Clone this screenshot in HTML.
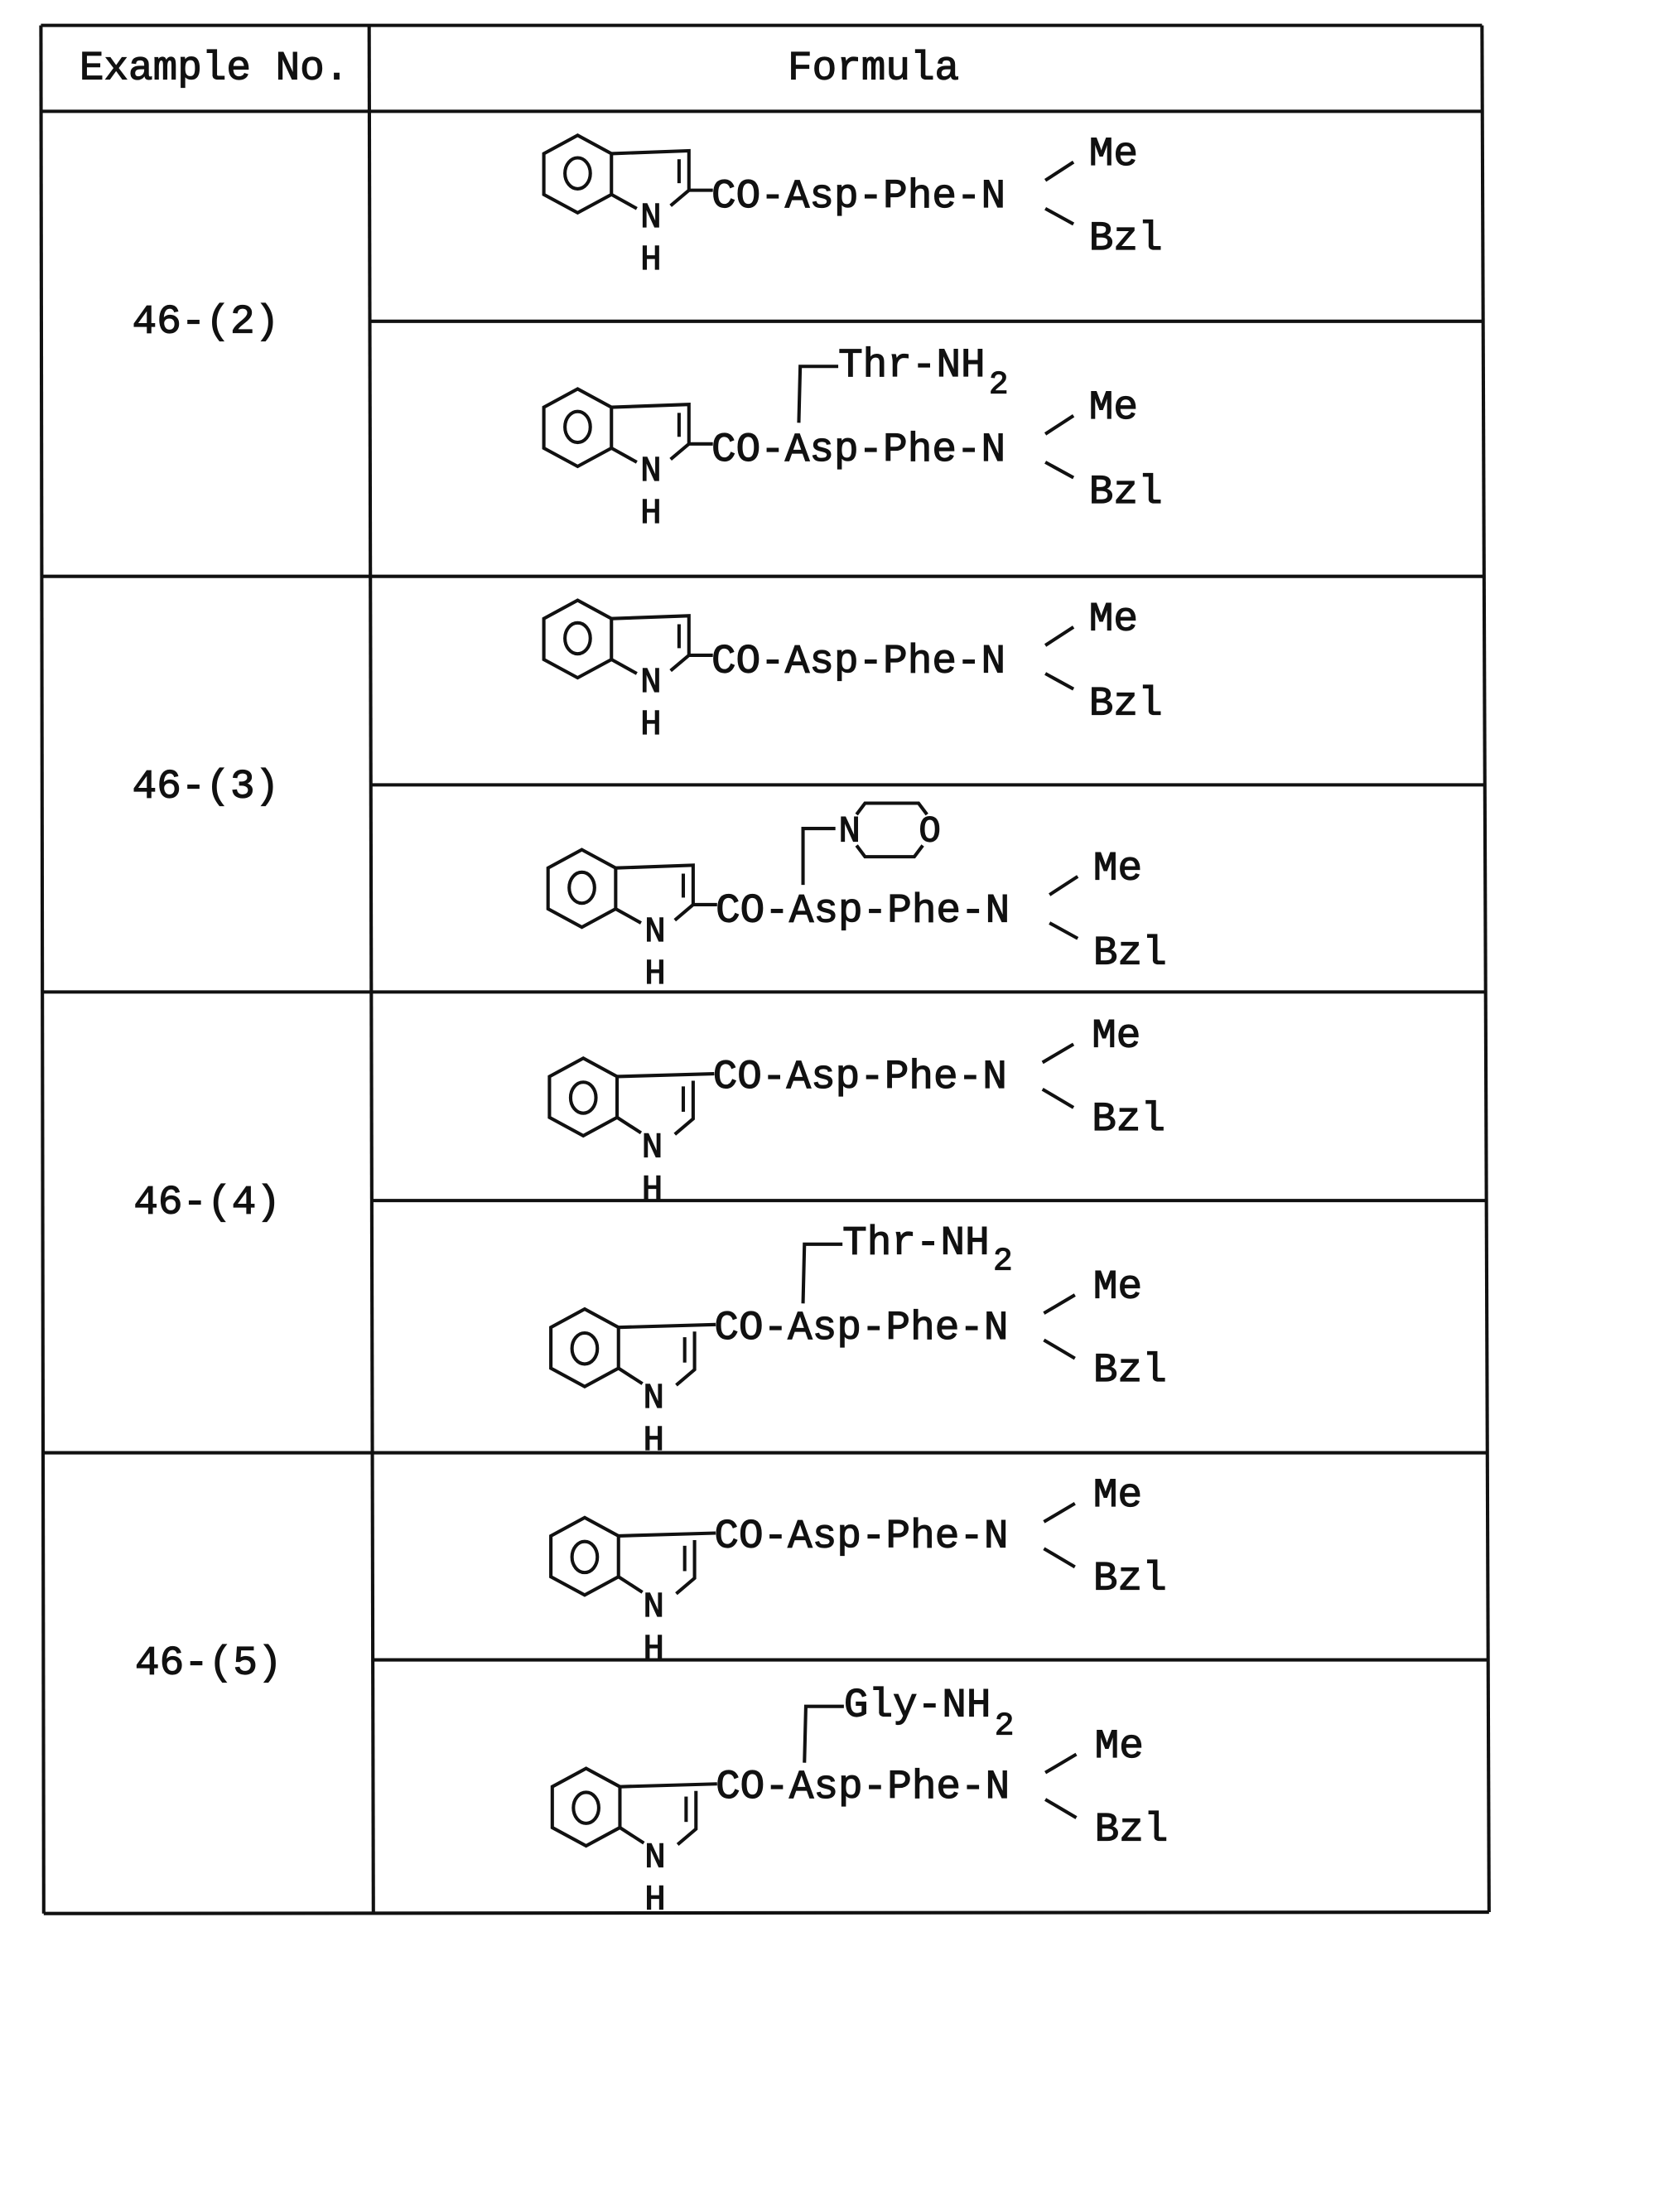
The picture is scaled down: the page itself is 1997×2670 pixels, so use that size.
<!DOCTYPE html>
<html><head><meta charset="utf-8"><style>
html,body{margin:0;padding:0;background:#fff;}
svg{display:block;}
text{font-family:"Liberation Mono","DejaVu Sans Mono",monospace;fill:#111;stroke:#111;stroke-width:0.7;}
</style></head><body>
<svg width="1997" height="2670" viewBox="0 0 1160 1551" xmlns="http://www.w3.org/2000/svg">
<g transform="translate(2,1) scale(0.988)">
<g stroke="#111" stroke-width="2.4" fill="none">
<line x1="27" y1="17" x2="1050" y2="17"/>
<line x1="27" y1="78" x2="1050" y2="78"/>
<line x1="27" y1="408" x2="1051" y2="408"/>
<line x1="27" y1="703" x2="1052" y2="703"/>
<line x1="28" y1="1030" x2="1054" y2="1030"/>
<line x1="29" y1="1357" x2="1055" y2="1356"/>
<line x1="260" y1="227" x2="1050" y2="227"/>
<line x1="261" y1="556" x2="1051" y2="556"/>
<line x1="262" y1="851" x2="1053" y2="851"/>
<line x1="263" y1="1177" x2="1054" y2="1177"/>
<line x1="27" y1="17" x2="29" y2="1357"/>
<line x1="260" y1="17" x2="263" y2="1357"/>
<line x1="1050" y1="17" x2="1055" y2="1356"/>
</g>
<g font-size="29" text-anchor="middle">
<text x="150" y="55">Example No.</text>
<text x="618" y="55">Formula</text>
<text x="144" y="235">46-(2)</text>
<text x="144" y="565">46-(3)</text>
<text x="145" y="860">46-(4)</text>
<text x="146" y="1187">46-(5)</text>
</g>

<g>
<g stroke="#111" stroke-width="2.4" fill="none">
<polygon points="408,95 432,108 432,137 408,150 384,137 384,108"/>
<ellipse cx="408" cy="122" rx="9" ry="11"/>
<polyline points="432,108 487,106 487,134 474,145"/>
<line x1="480" y1="112" x2="480" y2="129"/>
<line x1="432" y1="137" x2="450" y2="147"/>
<line x1="487" y1="134" x2="504" y2="134"/>
<line x1="740" y1="127" x2="760" y2="114"/>
<line x1="740" y1="147" x2="760" y2="158"/>
</g>
<g font-size="29">
<text x="460" y="160" text-anchor="middle" font-size="25">N</text>
<text x="460" y="190" text-anchor="middle" font-size="25">H</text>
<text x="503" y="146">CO-Asp-Phe-N</text>
<text x="771" y="116">Me</text>
<text x="771" y="176">Bzl</text>
</g>
</g>
<g transform="translate(0,180)">
<g stroke="#111" stroke-width="2.4" fill="none">
<polygon points="408,95 432,108 432,137 408,150 384,137 384,108"/>
<ellipse cx="408" cy="122" rx="9" ry="11"/>
<polyline points="432,108 487,106 487,134 474,145"/>
<line x1="480" y1="112" x2="480" y2="129"/>
<line x1="432" y1="137" x2="450" y2="147"/>
<line x1="487" y1="134" x2="504" y2="134"/>
<line x1="740" y1="127" x2="760" y2="114"/>
<line x1="740" y1="147" x2="760" y2="158"/>
<polyline points="593,79 566,79 565,119"/>
</g>
<g font-size="29">
<text x="460" y="160" text-anchor="middle" font-size="25">N</text>
<text x="460" y="190" text-anchor="middle" font-size="25">H</text>
<text x="503" y="146">CO-Asp-Phe-N</text>
<text x="771" y="116">Me</text>
<text x="771" y="176">Bzl</text>
<text x="593" y="86">Thr-NH</text>
<text x="700" y="98" font-size="23">2</text>
</g>
</g>
<g transform="translate(0,330)">
<g stroke="#111" stroke-width="2.4" fill="none">
<polygon points="408,95 432,108 432,137 408,150 384,137 384,108"/>
<ellipse cx="408" cy="122" rx="9" ry="11"/>
<polyline points="432,108 487,106 487,134 474,145"/>
<line x1="480" y1="112" x2="480" y2="129"/>
<line x1="432" y1="137" x2="450" y2="147"/>
<line x1="487" y1="134" x2="504" y2="134"/>
<line x1="740" y1="127" x2="760" y2="114"/>
<line x1="740" y1="147" x2="760" y2="158"/>
</g>
<g font-size="29">
<text x="460" y="160" text-anchor="middle" font-size="25">N</text>
<text x="460" y="190" text-anchor="middle" font-size="25">H</text>
<text x="503" y="146">CO-Asp-Phe-N</text>
<text x="771" y="116">Me</text>
<text x="771" y="176">Bzl</text>
</g>
</g>
<g transform="translate(3,507)">
<g stroke="#111" stroke-width="2.4" fill="none">
<polygon points="408,95 432,108 432,137 408,150 384,137 384,108"/>
<ellipse cx="408" cy="122" rx="9" ry="11"/>
<polyline points="432,108 487,106 487,134 474,145"/>
<line x1="480" y1="112" x2="480" y2="129"/>
<line x1="432" y1="137" x2="450" y2="147"/>
<line x1="487" y1="134" x2="504" y2="134"/>
<line x1="740" y1="127" x2="760" y2="114"/>
<line x1="740" y1="147" x2="760" y2="158"/>
<polyline points="588,80 565,80 565,120"/>
<polyline points="603,70 609,62 647,62 653,70"/>
<polyline points="603,92 609,100 644,100 650,92"/>
</g>
<g font-size="29">
<text x="460" y="160" text-anchor="middle" font-size="25">N</text>
<text x="460" y="190" text-anchor="middle" font-size="25">H</text>
<text x="503" y="146">CO-Asp-Phe-N</text>
<text x="771" y="116">Me</text>
<text x="771" y="176">Bzl</text>
<text x="598" y="89" text-anchor="middle" font-size="26">N</text>
<text x="655" y="89" text-anchor="middle" font-size="26">O</text>
</g>
</g>

<g>
<g stroke="#111" stroke-width="2.4" fill="none">
<polygon points="412,750 436,763 436,792 412,805 388,792 388,763"/>
<ellipse cx="412" cy="778" rx="9" ry="11"/>
<line x1="436" y1="763" x2="505" y2="761"/>
<polyline points="490,766 490,793 477,804"/>
<line x1="483" y1="770" x2="483" y2="788"/>
<line x1="436" y1="792" x2="453" y2="803"/>
<line x1="738" y1="753" x2="760" y2="740"/>
<line x1="738" y1="772" x2="760" y2="785"/>
</g>
<g font-size="29">
<text x="461" y="820" text-anchor="middle" font-size="25">N</text>
<text x="461" y="850" text-anchor="middle" font-size="25">H</text>
<text x="504" y="771">CO-Asp-Phe-N</text>
<text x="773" y="742">Me</text>
<text x="773" y="801">Bzl</text>
</g>
</g>
<g transform="translate(1,178)">
<g stroke="#111" stroke-width="2.4" fill="none">
<polygon points="412,750 436,763 436,792 412,805 388,792 388,763"/>
<ellipse cx="412" cy="778" rx="9" ry="11"/>
<line x1="436" y1="763" x2="505" y2="761"/>
<polyline points="490,766 490,793 477,804"/>
<line x1="483" y1="770" x2="483" y2="788"/>
<line x1="436" y1="792" x2="453" y2="803"/>
<line x1="738" y1="753" x2="760" y2="740"/>
<line x1="738" y1="772" x2="760" y2="785"/>
<polyline points="595,704 568,704 567,746"/>
</g>
<g font-size="29">
<text x="461" y="820" text-anchor="middle" font-size="25">N</text>
<text x="461" y="850" text-anchor="middle" font-size="25">H</text>
<text x="504" y="771">CO-Asp-Phe-N</text>
<text x="773" y="742">Me</text>
<text x="773" y="801">Bzl</text>
<text x="595" y="711">Thr-NH</text>
<text x="702" y="722" font-size="23">2</text>
</g>
</g>
<g transform="translate(1,326)">
<g stroke="#111" stroke-width="2.4" fill="none">
<polygon points="412,750 436,763 436,792 412,805 388,792 388,763"/>
<ellipse cx="412" cy="778" rx="9" ry="11"/>
<line x1="436" y1="763" x2="505" y2="761"/>
<polyline points="490,766 490,793 477,804"/>
<line x1="483" y1="770" x2="483" y2="788"/>
<line x1="436" y1="792" x2="453" y2="803"/>
<line x1="738" y1="753" x2="760" y2="740"/>
<line x1="738" y1="772" x2="760" y2="785"/>
</g>
<g font-size="29">
<text x="461" y="820" text-anchor="middle" font-size="25">N</text>
<text x="461" y="850" text-anchor="middle" font-size="25">H</text>
<text x="504" y="771">CO-Asp-Phe-N</text>
<text x="773" y="742">Me</text>
<text x="773" y="801">Bzl</text>
</g>
</g>
<g transform="translate(2,504)">
<g stroke="#111" stroke-width="2.4" fill="none">
<polygon points="412,750 436,763 436,792 412,805 388,792 388,763"/>
<ellipse cx="412" cy="778" rx="9" ry="11"/>
<line x1="436" y1="763" x2="505" y2="761"/>
<polyline points="490,766 490,793 477,804"/>
<line x1="483" y1="770" x2="483" y2="788"/>
<line x1="436" y1="792" x2="453" y2="803"/>
<line x1="738" y1="753" x2="760" y2="740"/>
<line x1="738" y1="772" x2="760" y2="785"/>
<polyline points="595,706 568,706 567,746"/>
</g>
<g font-size="29">
<text x="461" y="820" text-anchor="middle" font-size="25">N</text>
<text x="461" y="850" text-anchor="middle" font-size="25">H</text>
<text x="504" y="771">CO-Asp-Phe-N</text>
<text x="773" y="742">Me</text>
<text x="773" y="801">Bzl</text>
<text x="595" y="713">Gly-NH</text>
<text x="702" y="726" font-size="23">2</text>
</g>
</g>
</g>
</svg>
</body></html>
